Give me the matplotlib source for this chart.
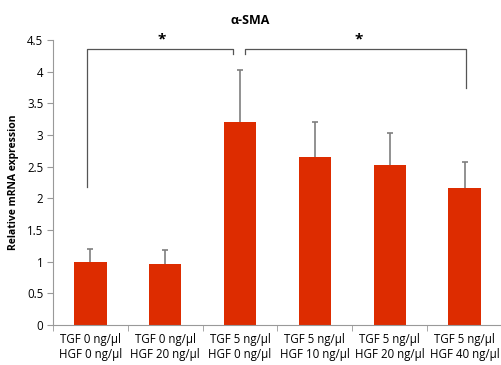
import matplotlib.pyplot as plt

plt.rcParams['font.family'] = ['Open Sans', 'DejaVu Sans']

labels = ["TGF 0 ng/µl\nHGF 0 ng/µl", "TGF 0 ng/µl\nHGF 20 ng/µl",
          "TGF 5 ng/µl\nHGF 0 ng/µl", "TGF 5 ng/µl\nHGF 10 ng/µl",
          "TGF 5 ng/µl\nHGF 20 ng/µl", "TGF 5 ng/µl\nHGF 40 ng/µl"]
values = [1.0, 0.97, 3.21, 2.65, 2.53, 2.16]
err_up = [0.20, 0.22, 0.82, 0.55, 0.50, 0.41]

# significance brackets: x positions and heights
br1_x = [-0.05, -0.05, 1.9, 1.9]
br1_y = [2.18, 4.36, 4.36, 4.28]
br2_x = [2.07, 2.07, 5.02, 5.02]
br2_y = [4.28, 4.36, 4.36, 3.75]

fig = plt.figure(figsize=(5.02, 3.65), dpi=100)
ax = fig.add_axes([53/502, 40/365, 449/502, 285/365])

x = list(range(len(values)))
ax.bar(x, values, width=0.43, color='#DD2C00', zorder=2)
# symmetric bars drawn behind, so only the upper half shows
ax.errorbar(x, values, yerr=err_up, fmt='none',
            ecolor='#7f7f7f', elinewidth=1.2, capsize=2.5, capthick=1.2, zorder=1)

ax.plot(br1_x, br1_y, color='#555555', lw=0.9, clip_on=False)
ax.plot(br2_x, br2_y, color='#555555', lw=0.9, clip_on=False)
ax.text(0.95, 4.4, '*', ha='center', va='bottom', fontsize=11, fontweight='bold')
ax.text(3.58, 4.4, '*', ha='center', va='bottom', fontsize=11, fontweight='bold')

ax.set_xlim(-0.5, 5.5)
ax.set_ylim(0, 4.5)
ax.set_yticks([0, 0.5, 1, 1.5, 2, 2.5, 3, 3.5, 4, 4.5])
ax.set_yticklabels(['0', '0.5', '1', '1.5', '2', '2.5', '3', '3.5', '4', '4.5'])
ax.set_xticks(x)
ax.set_xticklabels(labels, fontsize=8.3)
ax.set_xticks([i + 0.5 for i in range(-1, 6)], minor=True)
ax.tick_params(axis='x', which='major', length=0, pad=6)
ax.tick_params(axis='x', which='minor', length=4, color='#999999', direction='out')
ax.tick_params(axis='y', labelsize=8.3, length=4, color='#999999', pad=3)

for s in ['top', 'right']:
    ax.spines[s].set_visible(False)
ax.spines['left'].set_color('#999999')
ax.spines['bottom'].set_color('#999999')

ax.set_ylabel('Relative mRNA expression', fontsize=7.5, fontweight='bold', labelpad=6)
fig.text(250/502, 1 - 20/365, 'α-SMA', ha='center', va='center', fontsize=9, fontweight='bold')

fig.savefig('out.png', dpi=100)
